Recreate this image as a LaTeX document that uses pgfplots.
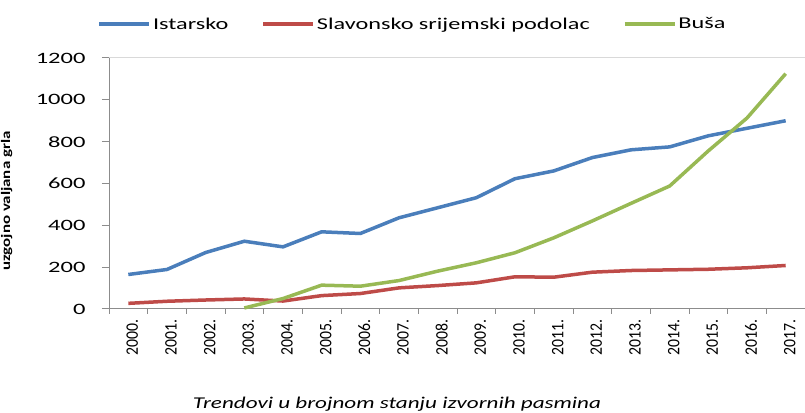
\documentclass[border=0pt]{standalone}
\usepackage{pgfplots}
\pgfplotsset{compat=1.18}
\usepackage{fontspec}
\setmainfont{Carlito}
\usepackage{graphicx}
\definecolor{cBlue}{HTML}{4A7EBB}
\definecolor{cRed}{HTML}{BE4B48}
\definecolor{cGreen}{HTML}{98B954}
\definecolor{axgray}{HTML}{8C8C8C}
\definecolor{topgray}{HTML}{D9D9D9}
\newcommand{\xl}[1]{\scalebox{0.9}[1]{#1}}
\begin{document}
\begin{tikzpicture}[x=1pt,y=1pt]
\useasboundingbox (0,0) rectangle (805,412);
\begin{axis}[
  at={(109pt,103pt)}, anchor=south west,
  width=696pt, height=251pt, scale only axis,
  xmin=-0.5, xmax=17.5, ymin=0, ymax=1200,
  clip=false,
  axis x line*=bottom, axis y line*=left,
  axis line style={axgray, line width=1pt},
  tick align=outside,
  xtick={0,...,17},
  xticklabels={\xl{2000.},\xl{2001.},\xl{2002.},\xl{2003.},\xl{2004.},\xl{2005.},\xl{2006.},\xl{2007.},\xl{2008.},\xl{2009.},\xl{2010.},\xl{2011.},\xl{2012.},\xl{2013.},\xl{2014.},\xl{2015.},\xl{2016.},\xl{2017.}},
  major x tick style={draw=none},
  minor xtick={-0.5,0.5,...,17.5},
  minor tick length=5pt,
  minor x tick style={axgray, line width=1pt},
  ytick={0,200,...,1200},
  major tick length=7pt,
  y tick style={axgray, line width=1pt},
  x tick label style={rotate=90, anchor=east, font=\fontsize{17.5}{19}\selectfont, yshift=-4pt},
  y tick label style={anchor=east, font=\fontsize{15.8}{17}\selectfont, xshift=-13pt},
  yticklabel={\scalebox{1.55}[1]{\pgfmathprintnumber[assume math mode=true, 1000 sep={}]{\tick}}},
  ylabel={\bfseries\scalebox{1.3}[1]{uzgojno valjana grla}},
  ylabel style={at={(axis description cs:-0.147,0.43)}, anchor=center, font=\fontsize{13}{15}\selectfont},
  legend style={at={(axis description cs:-0.0167,1.135)}, anchor=west, draw=none, fill=none,
    inner sep=0pt, font=\fontsize{16.5}{18}\selectfont, legend columns=3,
    /tikz/every even column/.append style={column sep=31pt},
    nodes={inner sep=2pt, anchor=west}},
  legend image code/.code={\draw[#1, line width=3.5pt] (0pt,0pt) -- (50pt,0pt);},
]
\draw[topgray, line width=1pt] (rel axis cs:0,1) -- (rel axis cs:1,1);
\addplot[cBlue, line width=3.5pt] coordinates {
(0,165) (1,189) (2,270) (3,324) (4,297) (5,369) (6,361) (7,436) (8,484)
(9,532) (10,623) (11,660) (12,724) (13,761) (14,775) (15,828) (16,864) (17,900)};
\addlegendentry{\scalebox{1.47}[1]{Istarsko}}
\addplot[cRed, line width=3.5pt] coordinates {
(0,27) (1,37) (2,43) (3,48) (4,38) (5,64) (6,74) (7,101) (8,112)
(9,125) (10,154) (11,152) (12,176) (13,184) (14,187) (15,190) (16,197) (17,208)};
\addlegendentry{\scalebox{1.47}[1]{Slavonsko srijemski podolac}}
\addplot[cGreen, line width=3.5pt] coordinates {
(3,5) (4,50) (5,114) (6,109) (7,136) (8,181) (9,221) (10,269) (11,340)
(12,421) (13,505) (14,588) (15,756) (16,913) (17,1125)};
\addlegendentry{\scalebox{1.47}[1]{Buša}}
\end{axis}
\node[anchor=base, font=\fontsize{16.5}{18}\selectfont\itshape] at (397,4)
  {\scalebox{1.4}[1]{Trendovi u brojnom stanju izvornih pasmina}};
\end{tikzpicture}
\end{document}
